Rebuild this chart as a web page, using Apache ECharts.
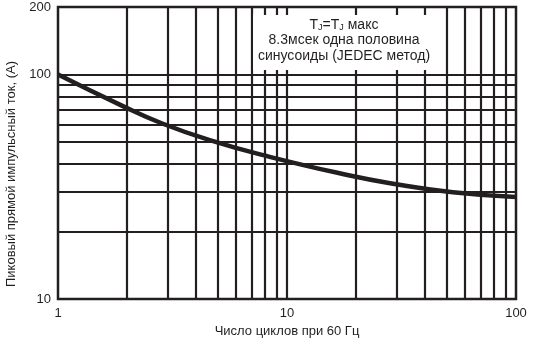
<!DOCTYPE html>
<html>
<head>
<meta charset="utf-8">
<script src="https://cdn.jsdelivr.net/npm/echarts@6/dist/echarts.min.js"></script>
<style>html,body{margin:0;padding:0;background:#fff}#c{width:537px;height:338px}</style>
</head>
<body>
<div id="c"></div>
<script>
// Data
var cycles = [1, 1.9, 2.8, 4.6, 8.4, 18.8, 28.2, 53, 100];
var current = [100, 72.7, 61, 51, 43, 35.5, 32.8, 29.9, 28.5];
var xGridValues = [2, 3, 4, 5, 6, 7, 8, 9, 10, 20, 30, 40, 50, 60, 70, 80, 90];
var yGridValues = [20, 30, 40, 50, 60, 70, 80, 90, 100];
var yLabelValues = [10, 100, 200];
var xLabelValues = [1, 10, 100];
var xName = 'Число циклов при 60 Гц';
var yName = 'Пиковый прямой импульсный ток, (A)';
var noteLines = ['T{s|J}=T{s|J} макс', '8.3мсек одна половина', 'синусоиды (JEDEC метод)'];

var ink = '#231f20';
var font = 'Liberation Sans, Arial, sans-serif';

var chart = echarts.init(document.getElementById('c'), null, {renderer: 'canvas'});
var marks = [];
xGridValues.forEach(function (v) { marks.push({xAxis: v}); });
yGridValues.forEach(function (v) { marks.push({yAxis: v}); });

chart.setOption({
  animation: false,
  backgroundColor: '#fff',
  grid: {left: 58, right: 21, top: 7, bottom: 39, containLabel: false, outerBoundsMode: 'none',
         show: true, borderColor: ink, borderWidth: 2.5, backgroundColor: '#fff'},
  xAxis: {
    type: 'log', logBase: 10, min: 1, max: 100,
    name: xName, nameLocation: 'middle', nameGap: 20,
    nameTextStyle: {color: ink, fontFamily: font, fontSize: 13},
    axisLine: {show: false}, axisTick: {show: false}, splitLine: {show: false},
    axisLabel: {customValues: xLabelValues, color: ink, fontFamily: font, fontSize: 13, margin: 8, showMinLabel: true, showMaxLabel: true}
  },
  yAxis: {
    type: 'log', logBase: 10, min: 10, max: 200,
    name: yName, nameLocation: 'middle', nameGap: 35,
    nameTextStyle: {color: ink, fontFamily: font, fontSize: 13, padding: [0, 42, 0, 0]},
    axisLine: {show: false}, axisTick: {show: false}, splitLine: {show: false},
    axisLabel: {customValues: yLabelValues, color: ink, fontFamily: font, fontSize: 13, margin: 7, showMinLabel: true, showMaxLabel: true}
  },
  series: [{
    type: 'line',
    data: cycles.map(function (c, i) { return [c, current[i]]; }),
    smooth: true,
    symbol: 'none',
    lineStyle: {color: ink, width: 4.5},
    z: 5,
    markLine: {
      silent: true, symbol: 'none', label: {show: false},
      lineStyle: {color: ink, width: 2.2, type: 'solid'},
      data: marks
    }
  }],
  graphic: [
    {type: 'rect', shape: {x: 253, y: 15, width: 182, height: 55}, style: {fill: '#fff'}, z: 100},
    {type: 'text', x: 344, y: 17, z: 101, style: {
      text: noteLines.join('\n'), align: 'center', verticalAlign: 'top',
      fill: ink, fontFamily: font, fontSize: 14, lineHeight: 15.5,
      rich: {s: {fontSize: 9, fill: ink, fontFamily: font, verticalAlign: 'bottom', padding: [4, 0, 0, 0]}}
    }}
  ]
});
</script>
</body>
</html>
